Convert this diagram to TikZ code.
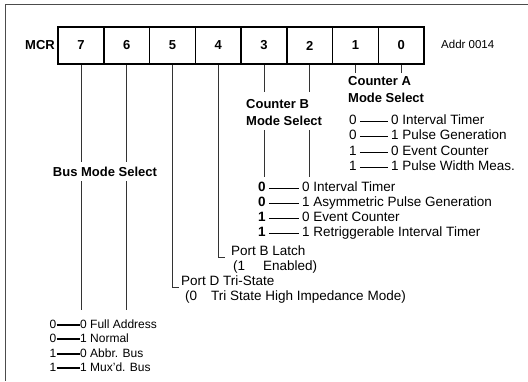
\documentclass[tikz,border=0pt]{standalone}
\usepackage{fontspec}
\setmainfont{Liberation Sans}
\usetikzlibrary{positioning,calc}

\begin{document}
\begin{tikzpicture}[
    x=1pt, y=-1pt,
    font=\fontsize{13.5}{17}\selectfont,
    bitcell/.style={rectangle, draw, line width=1.6pt, minimum width=45.75pt, minimum height=37pt, inner sep=0pt, font=\fontsize{13}{17}\selectfont\bfseries},
    head/.style={font=\fontsize{13}{17}\selectfont\bfseries, align=left, inner sep=0pt},
    txt/.style={anchor=west, inner sep=0pt, text height=9.5pt, text depth=2.7pt},
    dig/.style={inner sep=0pt, text height=9.5pt, text depth=2.7pt},
    small/.style={font=\fontsize{12}{15}\selectfont, text height=8.5pt, text depth=2.5pt},
    wire/.style={black!80, line width=0.7pt},
    rowline/.style={black, line width=0.6pt, shorten <=3pt, shorten >=3pt},
    fatline/.style={black, line width=1.8pt}
]
\useasboundingbox (0,0) rectangle (528,381);
\draw[black!70, line width=0.9pt] (528,4) -- (5,4) -- (5,381);

% register
\node[head] (mcr) at (40,45) {MCR};
\foreach \b [count=\i from 0] in {7,6,5,4,3,2,1,0}
    \node[bitcell] (b\b) at ({81+45.75*\i},45.5) {\b};
\node[txt, font=\fontsize{11.5}{15}\selectfont] (addr) at (441,45) {Addr 0014};

% wire levels
\coordinate (caTop) at (0,73);
\coordinate (cbTop) at (0,92);
\coordinate (cbMid) at (0,130);
\coordinate (cbEnd) at (0,177);
\coordinate (busTop) at (0,162);
\coordinate (busMid) at (0,181);
\coordinate (busEnd) at (0,310);
\coordinate (pbCorner) at (225,257);
\coordinate (pdCorner) at (179,287);

% counter A
\node[head, anchor=north west] (cntA) at (348,76) {Counter A\\Mode Select};
\draw[wire] (b1.south) -- (b1.south |- caTop);
\draw[wire] (b0.south) -- (b0.south |- caTop);
\foreach \l/\r/\t [count=\i from 0] in {0/0/Interval Timer, 0/1/Pulse Generation, 1/0/Event Counter, 1/1/Pulse Width Meas.} {
    \node[dig] (aL\i) at (353,121+15.5*\i) {\l};
    \node[txt] (aR\i) at (391,121+15.5*\i) {\r\ \t};
    \draw[rowline] (aL\i) -- (aR\i);
}

% counter B
\node[head, anchor=north west] (cntB) at (246,99) {Counter B\\Mode Select};
\foreach \b in {3,2} {
    \draw[wire] (b\b.south) -- (b\b.south |- cbTop);
    \draw[wire] (b\b.south |- cbMid) -- (b\b.south |- cbEnd);
}
\foreach \l/\r/\t [count=\i from 0] in {0/0/Interval Timer, 0/1/Asymmetric Pulse Generation, 1/0/Event Counter, 1/1/Retriggerable Interval Timer} {
    \node[dig, font=\fontsize{13.5}{17}\selectfont\bfseries] (bL\i) at (262,188+15*\i) {\l};
    \node[txt] (bR\i) at (302,188+15*\i) {\r\ \t};
    \draw[rowline] (bL\i) -- (bR\i);
}

% port B latch
\draw[wire] (b4.south) |- (pbCorner);
\node[txt] (portB) at (231,252) {Port B Latch};
\node[txt] (portBval) at (233,267) {(1\hspace{18pt}Enabled)};

% port D tri-state
\draw[wire] (b5.south) |- (pdCorner);
\node[txt] (portD) at (181,282) {Port D Tri-State};
\node[txt] (portDval) at (185,297) {(0\hspace{14pt}Tri State High Impedance Mode)};

% bus mode
\node[head] (bus) at (105,172) {Bus Mode Select};
\foreach \b in {7,6} {
    \draw[wire] (b\b.south) -- (b\b.south |- busTop);
    \draw[wire] (b\b.south |- busMid) -- (b\b.south |- busEnd);
}
\foreach \l/\r/\t/\y [count=\i from 0] in {0/0/Full Address/325, 0/1/Normal/339, 1/0/Abbr. Bus/354, 1/1/Mux'd. Bus/368} {
    \node[dig, small] (cL\i) at (53,\y) {\l};
    \node[txt, small] (cR\i) at (80,\y) {\r\ \t};
    \draw[fatline] (cL\i) -- (cR\i);
}
\end{tikzpicture}
\end{document}
